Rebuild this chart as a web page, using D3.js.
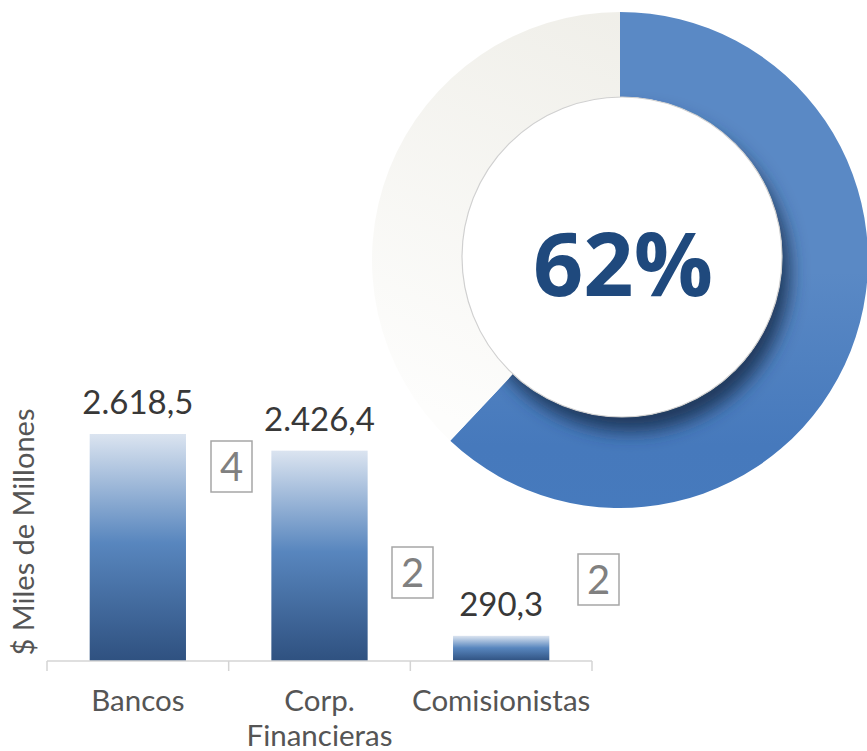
<!DOCTYPE html>
<html><head><meta charset="utf-8">
<script src="https://cdn.jsdelivr.net/npm/d3@7"></script>
<style>body{margin:0;background:#fff}svg{display:block}</style>
</head><body>
<script>
const categories = ["Bancos", "Corp.\nFinancieras", "Comisionistas"];
const values = [2618.5, 2426.4, 290.3];
const valueLabels = ["2.618,5", "2.426,4", "290,3"];
const boxNumbers = ["4", "2", "2"];
const donutValues = [62, 38];
const donutLabel = "62%";
const yTitle = "$ Miles de Millones";

const W = 867, H = 751;
const svg = d3.select("body").append("svg").attr("width", W).attr("height", H);
const defs = svg.append("defs");

// gradients
const bg = defs.append("linearGradient").attr("id","barGrad").attr("x1",0).attr("y1",0).attr("x2",0).attr("y2",1);
bg.append("stop").attr("offset","0%").attr("stop-color","#dbe4f0");
bg.append("stop").attr("offset","48%").attr("stop-color","#5886be");
bg.append("stop").attr("offset","100%").attr("stop-color","#2f5180");

const blueGrad = defs.append("linearGradient").attr("id","blueGrad").attr("gradientUnits","userSpaceOnUse")
  .attr("x1",620).attr("y1",12).attr("x2",620).attr("y2",508);
blueGrad.append("stop").attr("offset","0%").attr("stop-color","#5a89c5");
blueGrad.append("stop").attr("offset","35%").attr("stop-color","#4679bc");
blueGrad.append("stop").attr("offset","100%").attr("stop-color","#477ec1");

const greyGrad = defs.append("linearGradient").attr("id","greyGrad").attr("gradientUnits","userSpaceOnUse")
  .attr("x1",620).attr("y1",20).attr("x2",420).attr("y2",440);
greyGrad.append("stop").attr("offset","0%").attr("stop-color","#efeee8");
greyGrad.append("stop").attr("offset","100%").attr("stop-color","#fdfdfc");

const shadow = defs.append("filter").attr("id","shadow").attr("x","-30%").attr("y","-30%").attr("width","160%").attr("height","160%");
shadow.append("feDropShadow").attr("dx",8).attr("dy",15).attr("stdDeviation",9)
  .attr("flood-color","#1a3558").attr("flood-opacity",0.95);

// Donut
const cx = 620, cy = 260, rOuter = 248, rInner = 150;
const pie = d3.pie().sort(null).value(d => d);
const arc = d3.arc().innerRadius(rInner).outerRadius(rOuter);
const dg = svg.append("g").attr("transform", `translate(${cx},${cy})`);
dg.selectAll("path").data(pie(donutValues)).join("path")
  .attr("d", arc)
  .attr("fill", (d,i) => i === 0 ? "url(#blueGrad)" : "url(#greyGrad)");
// clip shadow to the blue ring only
const clip = defs.append("clipPath").attr("id","ringClip");
clip.append("path").attr("transform", `translate(${cx},${cy})`).attr("d", arc(pie(donutValues)[0]));
svg.append("g").attr("clip-path","url(#ringClip)")
  .append("circle").attr("cx",cx+2).attr("cy",cy-3).attr("r",160)
  .attr("fill","#fff").attr("filter","url(#shadow)");
svg.append("circle").attr("cx",cx+2).attr("cy",cy-3).attr("r",160)
  .attr("fill","#fff").attr("stroke","#d0d0d0").attr("stroke-width",1.2);
svg.append("text").attr("x",cx+3).attr("y",cy+36).attr("text-anchor","middle")
  .attr("font-family","'Open Sans', sans-serif").attr("font-weight",700)
  .attr("font-size",88).attr("fill","#1f497d").text(donutLabel);

// Bar chart
const x = d3.scaleBand().domain(categories).range([47, 592]).paddingInner(0.47).paddingOuter(0.235);
const y = d3.scaleLinear().domain([0, values[0]]).range([661, 434]);

const bars = svg.append("g");
bars.selectAll("rect").data(values).join("rect")
  .attr("x", (d,i) => x(categories[i]))
  .attr("y", d => y(d))
  .attr("width", x.bandwidth())
  .attr("height", d => y(0) - y(d))
  .attr("fill", "url(#barGrad)");

bars.selectAll("text.val").data(values).join("text").attr("class","val")
  .attr("x", (d,i) => x(categories[i]) + x.bandwidth()/2)
  .attr("y", d => y(d) - 20)
  .attr("text-anchor","middle")
  .attr("font-family","Lato, sans-serif").attr("font-size",33).attr("fill","#383838")
  .text((d,i) => valueLabels[i]);

// axis
const axisG = svg.append("g").attr("transform","translate(0,661)");
const step = (592-47)/3;
axisG.append("line").attr("x1",47).attr("x2",592).attr("y1",0).attr("y2",0).attr("stroke","#d4d4d4").attr("stroke-width",1.5);
axisG.selectAll("line.tick").data(d3.range(4)).join("line").attr("class","tick")
  .attr("x1", i => 47 + i*step).attr("x2", i => 47 + i*step).attr("y1",0).attr("y2",10)
  .attr("stroke","#d4d4d4").attr("stroke-width",1.5);

const catG = svg.append("g");
categories.forEach((c,i) => {
  const t = catG.append("text").attr("text-anchor","middle")
    .attr("font-family","Lato, sans-serif").attr("font-size",29.5).attr("fill","#555");
  c.split("\n").forEach((ln, j) => {
    t.append("tspan").attr("x", x(c) + x.bandwidth()/2).attr("y", 711 + j*35).text(ln);
  });
});

// boxes
const boxPos = [[211,441],[392,547],[578,554]];
const bx = svg.append("g");
boxNumbers.forEach((n,i) => {
  const [bx0, by0] = boxPos[i];
  bx.append("rect").attr("x",bx0).attr("y",by0).attr("width",41).attr("height",51)
    .attr("fill","#fff").attr("stroke","#a6a6a6").attr("stroke-width",1.5);
  bx.append("text").attr("x",bx0+20.5).attr("y",by0+40).attr("text-anchor","middle")
    .attr("font-family","Lato, sans-serif").attr("font-size",40).attr("fill","#808080").text(n);
});

// y title
svg.append("text").attr("transform","translate(34,532) rotate(-90)").attr("text-anchor","middle")
  .attr("font-family","Lato, sans-serif").attr("font-size",29).attr("fill","#555").text(yTitle);
</script>
</body></html>
